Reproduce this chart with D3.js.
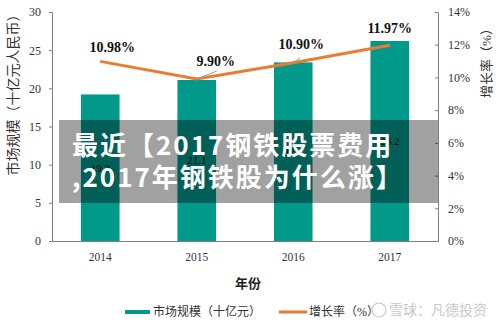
<!DOCTYPE html>
<html>
<head>
<meta charset="utf-8">
<script src="https://cdn.jsdelivr.net/npm/d3@7"></script>
<style>
  body { margin: 0; background: #fff; }
  svg { display: block; }
</style>
</head>
<body>
<div id="canvas"></div>
<script>
const years = ["2014", "2015", "2016", "2017"];
const marketSize = [19.2, 21.1, 23.4, 26.2];
const growthRate = [0.1098, 0.099, 0.109, 0.1197];
const growthLabels = ["10.98%", "9.90%", "10.90%", "11.97%"];
const leftTicks = [0, 5, 10, 15, 20, 25, 30];
const rightTicks = [0, 0.02, 0.04, 0.06, 0.08, 0.10, 0.12, 0.14];

// label offsets from each line point (styling, not data)
const labelOffsets = [[12, -9], [19, -13], [8, -14], [0, -12]];
const leaderEnds = [null, [20, -8], [7, -5], null];

const serif = "'Liberation Serif', 'Times New Roman', 'Noto Sans CJK SC', serif";
const cjk = "'Liberation Serif', 'Noto Sans CJK SC', serif";
const teal = "#00998a";
const orange = "#e97c30";

const width = 500;
const height = 325;
const margin = { top: 12, left: 52, bottom: 84, right: 62 };

const svg = d3.select("#canvas").append("svg")
  .attr("width", width)
  .attr("height", height);

const x = d3.scaleBand()
  .domain(years)
  .range([margin.left, width - margin.right])
  .paddingInner(0.6)
  .paddingOuter(0.3);

const yL = d3.scaleLinear().domain([0, 30]).range([height - margin.bottom, margin.top]);
const yR = d3.scaleLinear().domain([0, 0.14]).range([height - margin.bottom, margin.top]);

// bars
svg.append("g").selectAll("rect")
  .data(marketSize)
  .join("rect")
  .attr("x", (d, i) => x(years[i]))
  .attr("y", d => yL(d))
  .attr("width", x.bandwidth())
  .attr("height", d => yL(0) - yL(d))
  .attr("fill", teal);

svg.append("g").selectAll("text")
  .data(marketSize)
  .join("text")
  .attr("x", (d, i) => x(years[i]) + x.bandwidth() / 2)
  .attr("y", d => (yL(d) + yL(0)) / 2 + 4)
  .attr("text-anchor", "middle")
  .style("font-family", serif)
  .style("font-size", "11px")
  .attr("fill", "#111")
  .text(d => d.toFixed(1));

// axes
const axisColor = "#7f7f7f";
const gl = svg.append("g")
  .attr("transform", `translate(${margin.left},0)`)
  .call(d3.axisLeft(yL).tickValues(leftTicks).tickSize(3).tickSizeOuter(3).tickPadding(8));
const gr = svg.append("g")
  .attr("transform", `translate(${width - margin.right},0)`)
  .call(d3.axisRight(yR).tickValues(rightTicks).tickSize(-3).tickSizeOuter(-3).tickPadding(10)
    .tickFormat(d3.format(".0%")));
const gx = svg.append("g")
  .attr("transform", `translate(0,${yL(0)})`)
  .call(d3.axisBottom(x).tickSize(0).tickPadding(12));

[gl, gr, gx].forEach(g => {
  g.selectAll("path, line").attr("stroke", axisColor);
  g.selectAll("text")
    .attr("fill", "#333")
    .style("font-family", serif)
    .style("font-size", "12px");
});
gx.selectAll("text").style("font-size", "11.5px");

// line
const cx = i => x(years[i]) + x.bandwidth() / 2;
svg.append("path")
  .datum(growthRate)
  .attr("fill", "none")
  .attr("stroke", orange)
  .attr("stroke-width", 3)
  .attr("d", d3.line().x((d, i) => cx(i)).y(d => yR(d)));

const leaders = growthRate.map((d, i) => ({ d, i })).filter(o => leaderEnds[o.i]);
svg.append("g").selectAll("line")
  .data(leaders)
  .join("line")
  .attr("x1", o => cx(o.i))
  .attr("y1", o => yR(o.d))
  .attr("x2", o => cx(o.i) + leaderEnds[o.i][0])
  .attr("y2", o => yR(o.d) + leaderEnds[o.i][1])
  .attr("stroke", "#999")
  .attr("stroke-width", 1);

svg.append("g").selectAll("text")
  .data(growthRate)
  .join("text")
  .attr("x", (d, i) => cx(i) + labelOffsets[i][0])
  .attr("y", (d, i) => yR(d) + labelOffsets[i][1])
  .attr("text-anchor", "middle")
  .style("font-family", serif)
  .style("font-size", "14px")
  .style("font-weight", "bold")
  .attr("fill", "#111")
  .text((d, i) => growthLabels[i]);

// axis titles
svg.append("text")
  .attr("transform", `translate(18,${(yL(0) + yL(30)) / 2 - 35}) rotate(-90)`)
  .attr("text-anchor", "middle")
  .style("font-family", cjk)
  .style("font-size", "14px")
  .attr("fill", "#333")
  .text("市场规模（十亿元人民币）");

svg.append("text")
  .attr("transform", `translate(491,60) rotate(-90)`)
  .attr("text-anchor", "middle")
  .style("font-family", cjk)
  .style("font-size", "13px")
  .attr("fill", "#333")
  .text("增长率（%）");

svg.append("text")
  .attr("x", 248)
  .attr("y", 288)
  .attr("text-anchor", "middle")
  .style("font-family", cjk)
  .style("font-size", "13px")
  .style("font-weight", "bold")
  .attr("fill", "#222")
  .text("年份");

// legend
const legend = svg.append("g").attr("transform", "translate(0,312)");
legend.append("rect").attr("x", 125).attr("y", -2).attr("width", 25).attr("height", 4).attr("fill", teal);
legend.append("text").attr("x", 153).attr("y", 4)
  .style("font-family", cjk).style("font-size", "12px").attr("fill", "#333")
  .text("市场规模（十亿元）");
legend.append("rect").attr("x", 279).attr("y", -1.5).attr("width", 28).attr("height", 3).attr("fill", orange);
legend.append("text").attr("x", 309).attr("y", 4)
  .style("font-family", cjk).style("font-size", "12px").attr("fill", "#333")
  .text("增长率（%）");

// watermark
const wm = svg.append("g").attr("fill", "#c8c8c8");
wm.append("circle").attr("cx", 379).attr("cy", 310).attr("r", 7)
  .attr("fill", "none").attr("stroke", "#c8c8c8").attr("stroke-width", 1.2);
wm.append("text").attr("x", 389).attr("y", 315)
  .style("font-family", "'Noto Sans CJK SC', sans-serif").style("font-size", "14px")
  .text("雪球：凡德投资");

// overlay banner
svg.append("rect")
  .attr("x", 59).attr("y", 120).attr("width", 379).attr("height", 83)
  .attr("fill", "rgba(0,0,0,0.37)");
const banner = svg.append("text")
  .style("font-family", "'Noto Sans CJK SC', sans-serif")
  .style("font-size", "26px")
  .style("font-weight", "bold")
  .style("letter-spacing", "2px")
  .attr("fill", "#fff");
banner.append("tspan").attr("x", 72).attr("y", 155).text("最近【2017钢铁股票费用");
banner.append("tspan").attr("x", 72).attr("y", 187).text(",2017年钢铁股为什么涨】");
</script>
</body>
</html>
